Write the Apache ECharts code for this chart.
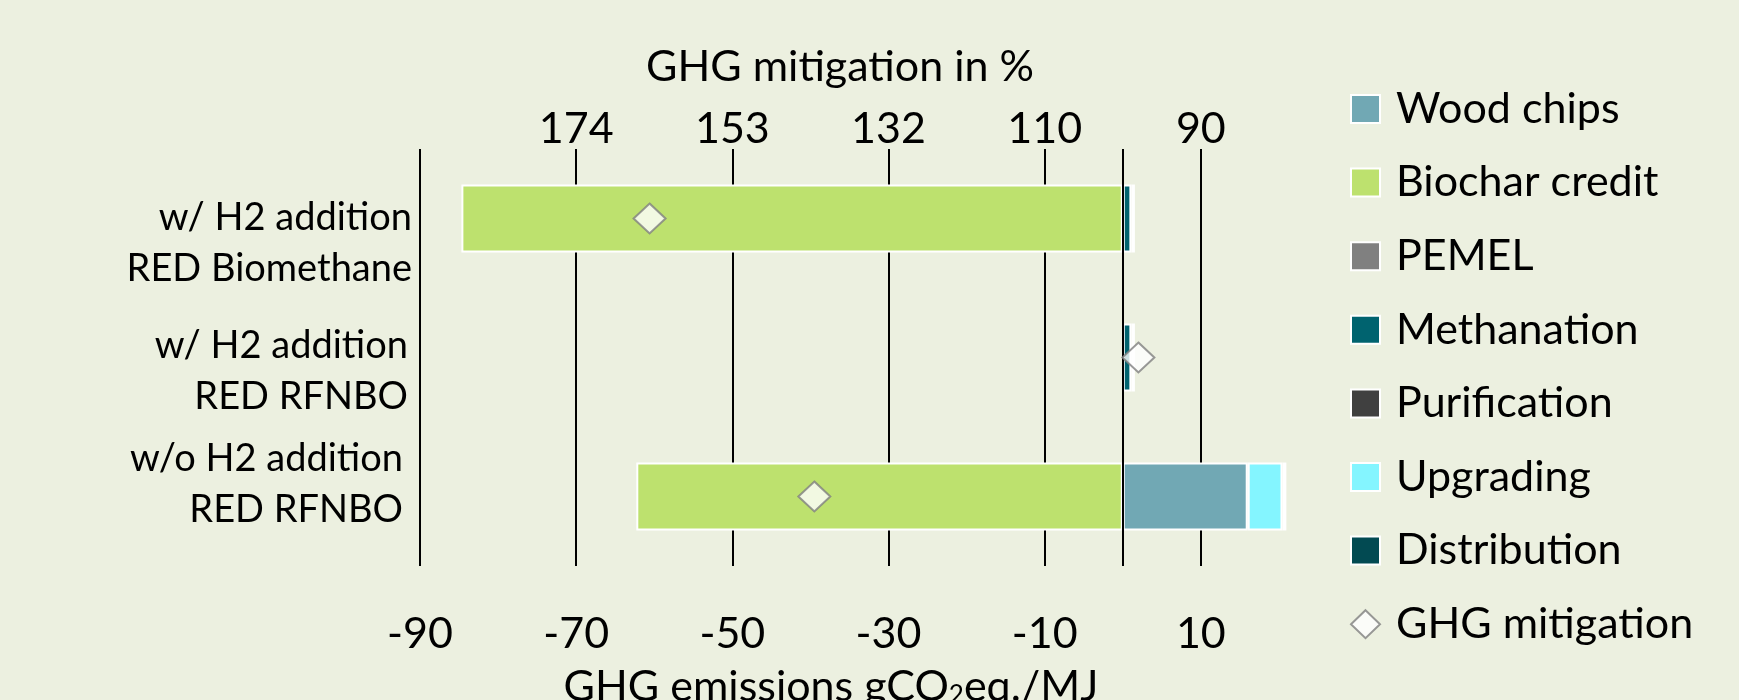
<!DOCTYPE html>
<html>
<head>
<meta charset="utf-8">
<title>GHG emissions</title>
<script src="https://cdn.jsdelivr.net/npm/echarts@6/dist/echarts.min.js"></script>
<style>
    html, body { margin: 0; padding: 0; background: #ecf0e0; }
    #chart { width: 1739px; height: 700px; }
</style>
</head>
<body>
<div id="chart"></div>
<script>
// categories from top to bottom
var categories = ['w/ H2 addition\nRED Biomethane', 'w/ H2 addition\nRED RFNBO', 'w/o H2 addition\nRED RFNBO'];

// gCO2eq./MJ per process step
var woodChips = ['-', '-', 16.0];
var biocharCredit = [-84.7, '-', -62.3];
var pemel = ['-', '-', '-'];
var methanation = [1.1, 1.1, '-'];
var purification = ['-', '-', '-'];
var upgrading = ['-', '-', 4.45];
var distribution = [0.45, 0.45, 0.5];

// diamond markers
var ghgMitigation = [-60.6, 2.0, -39.5];

var emissionTicks = [-90, -70, -50, -30, -10, 10];
var mitigationTickLabels = ['', '174', '153', '132', '110', '90'];

(function () {
    'use strict';

    var FONT = 'Lato, "Open Sans", sans-serif';
    var chart = echarts.init(document.getElementById('chart'), null, { renderer: 'canvas' });

    // vertical / horizontal nudge of each category label (px)
    var labelNudge = [
        { dy: 25, dx: 0 },
        { dy: 14, dx: 4 },
        { dy: -12, dx: 9 }
    ];

    var rich = {};
    labelNudge.forEach(function (n, i) {
        rich['c' + i] = {
            fontFamily: FONT,
            fontSize: 38,
            lineHeight: 51,
            color: '#000',
            align: 'right',
            padding: [0, n.dx, 0, 0]
        };
        rich['g' + i] = { fontSize: 1, lineHeight: Math.max(1, Math.abs(n.dy) * 2) };
    });

    function stackBar(name, data, color) {
        return {
            name: name,
            type: 'bar',
            stack: 'total',
            barWidth: 68,
            data: data,
            itemStyle: {
                color: color,
                borderColor: '#ffffff',
                borderWidth: 2
            }
        };
    }

    chart.setOption({
        animation: false,
        backgroundColor: '#ecf0e0',
        textStyle: { fontFamily: FONT, color: '#000' },
        grid: {
            left: 420,
            right: 421,
            top: 149,
            bottom: 134,
            containLabel: false,
            outerBoundsMode: 'none'
        },
        legend: {
            orient: 'vertical',
            left: 1350,
            top: 84,
            padding: 0,
            itemWidth: 29,
            itemHeight: 28,
            itemGap: 23.6,
            textStyle: {
                fontFamily: FONT,
                fontSize: 43,
                lineHeight: 50,
                color: '#000',
                padding: [0, 0, 0, 11]
            },
            data: [
                { name: 'Wood chips', icon: 'rect' },
                { name: 'Biochar credit', icon: 'rect' },
                { name: 'PEMEL', icon: 'rect' },
                { name: 'Methanation', icon: 'rect' },
                { name: 'Purification', icon: 'rect' },
                { name: 'Upgrading', icon: 'rect' },
                { name: 'Distribution', icon: 'rect' },
                { name: 'GHG mitigation', icon: 'diamond' }
            ]
        },
        xAxis: [
            {
                type: 'value',
                position: 'bottom',
                min: -90,
                max: 25,
                interval: 20,
                name: 'GHG emissions gCO{sub|2}eq./MJ',
                nameLocation: 'middle',
                nameGap: 100,
                nameTextStyle: {
                    fontFamily: FONT,
                    fontSize: 43,
                    lineHeight: 43,
                    color: '#000',
                    padding: [0, 76, 0, 0],
                    rich: {
                        sub: { fontFamily: FONT, fontSize: 26, lineHeight: 26, verticalAlign: 'bottom', padding: [16, 0, 0, 0] }
                    }
                },
                axisLine: { show: false },
                axisTick: { show: false },
                axisLabel: {
                    showMaxLabel: false,
                    margin: 47,
                    fontFamily: FONT,
                    fontSize: 43,
                    lineHeight: 43,
                    color: '#000'
                },
                splitLine: {
                    show: true,
                    showMaxLine: false,
                    lineStyle: { color: '#000', width: 2 }
                }
            },
            {
                type: 'value',
                position: 'top',
                min: -90,
                max: 25,
                interval: 20,
                name: 'GHG mitigation in %',
                nameLocation: 'middle',
                nameGap: 60,
                nameTextStyle: {
                    fontFamily: FONT,
                    fontSize: 43,
                    lineHeight: 43,
                    color: '#000',
                    padding: [0, 58, 0, 0]
                },
                axisLine: { show: false },
                axisTick: { show: false },
                splitLine: { show: false },
                axisLabel: {
                    showMaxLabel: false,
                    margin: 2,
                    fontFamily: FONT,
                    fontSize: 43,
                    lineHeight: 35,
                    color: '#000',
                    formatter: function (value) {
                        var i = emissionTicks.indexOf(value);
                        return i >= 0 ? mitigationTickLabels[i] : '';
                    }
                }
            }
        ],
        yAxis: {
            type: 'category',
            inverse: true,
            data: categories,
            axisLine: { show: false },
            axisTick: { show: false },
            splitLine: { show: false },
            axisLabel: {
                margin: 8,
                align: 'right',
                formatter: function (value, index) {
                    var n = labelNudge[index];
                    var lines = value.split('\n').map(function (s) {
                        return '{c' + index + '|' + s + '}';
                    });
                    var spacer = '{g' + index + '| }';
                    if (n.dy > 0) {
                        lines.unshift(spacer);
                    } else if (n.dy < 0) {
                        lines.push(spacer);
                    }
                    return lines.join('\n');
                },
                rich: rich
            }
        },
        series: [
            stackBar('Wood chips', woodChips, '#71a8b4'),
            stackBar('Biochar credit', biocharCredit, '#bde16e'),
            stackBar('PEMEL', pemel, '#808080'),
            stackBar('Methanation', methanation, '#00636f'),
            stackBar('Purification', purification, '#404040'),
            stackBar('Upgrading', upgrading, '#84f5ff'),
            stackBar('Distribution', distribution, '#024a52'),
            {
                name: 'GHG mitigation',
                type: 'scatter',
                z: 6,
                symbol: 'diamond',
                symbolSize: [32, 30],
                data: ghgMitigation.map(function (v, i) { return [v, i]; }),
                itemStyle: {
                    color: '#ffffff',
                    borderColor: '#7f7f7f',
                    borderWidth: 2
                },
                markLine: {
                    silent: true,
                    symbol: 'none',
                    z: 5,
                    label: { show: false },
                    lineStyle: { color: '#000', width: 2, type: 'solid' },
                    data: [{ xAxis: 0 }]
                }
            }
        ]
    });
})();
</script>
</body>
</html>
